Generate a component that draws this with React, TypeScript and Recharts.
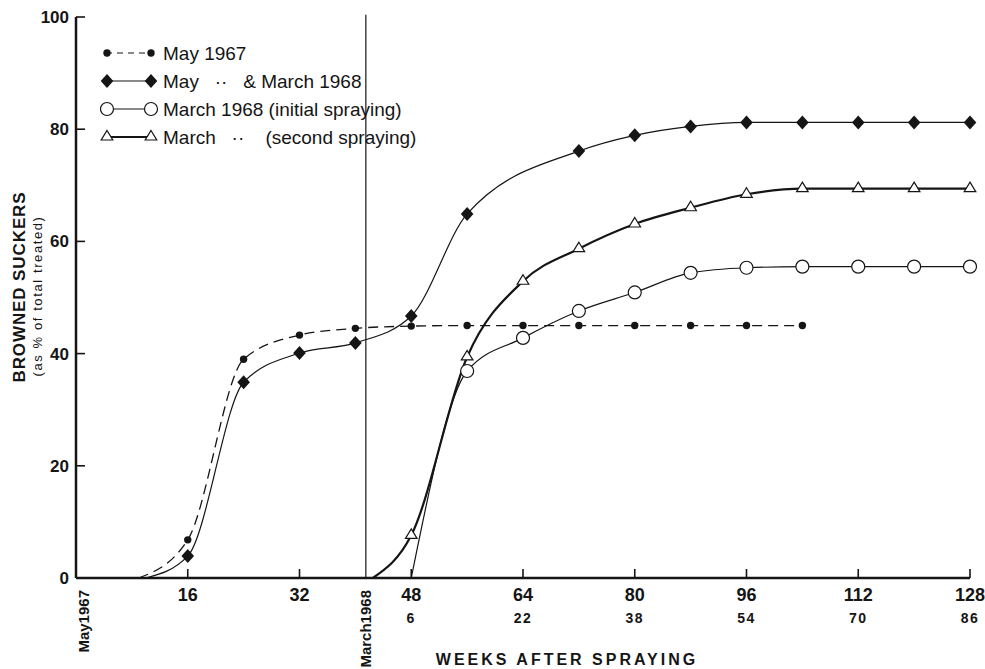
import { Legend, Line, LineChart, ReferenceLine, XAxis, YAxis } from 'recharts';

// weeks after May 1967 (x), browned suckers as % of total treated (y)
const weeks = [9, 10, 16, 24, 32, 40, 42.5, 48, 56, 64, 72, 80, 88, 96, 104, 112, 120, 128];
const may1967 = [0, null, 6.8, 39, 43.3, 44.5, null, 44.9, 45, 45, 45, 45, 45, 45, 45, null, null, null];
const mayMarch1968 = [null, 0, 3.9, 34.9, 40.1, 41.9, null, 46.7, 64.9, null, 76.1, 78.9, 80.5, 81.2, 81.2, 81.2, 81.2, 81.2];
const marchInitial = [null, null, null, null, null, null, null, 0, 36.9, 42.8, 47.6, 50.9, 54.4, 55.3, 55.5, 55.5, 55.5, 55.5];
const marchSecond = [null, null, null, null, null, null, 0, 7.6, 39.4, 52.9, 58.7, 63.1, 66.0, 68.4, 69.4, 69.4, 69.4, 69.4];

const marchSprayWeek = 41.5;
const weekTicks = [0, 16, 32, marchSprayWeek, 48, 64, 80, 96, 112, 128];
const weekLabels = ['May1967', '16', '32', 'March1968', '48', '64', '80', '96', '112', '128'];
const afterSprayLabels = ['', '', '', '', '6', '22', '38', '54', '70', '86'];
const pctTicks = [0, 20, 40, 60, 80, 100];

const legendLabels = [
	'May 1967',
	'May   ··   & March 1968',
	'March 1968 (initial spraying)',
	'March   ··    (second spraying)'
];

const data = weeks.map((week, i) => ({
	week,
	may1967: may1967[i],
	mayMarch1968: mayMarch1968[i],
	marchInitial: marchInitial[i],
	marchSecond: marchSecond[i]
}));

const INK = '#151515';
const FONT = '"Liberation Sans", Arial, sans-serif';

const empty = (key: string) => <g key={key} />;

const smallDot = (p: any) =>
	p.value ? <circle key={`s${p.index}`} cx={p.cx} cy={p.cy} r={3.7} fill={INK} /> : empty(`s${p.index}`);

const diamondDot = (p: any) =>
	p.value ? (
		<polygon
			key={`d${p.index}`}
			points={`${p.cx},${p.cy - 7} ${p.cx + 6.3},${p.cy} ${p.cx},${p.cy + 7} ${p.cx - 6.3},${p.cy}`}
			fill={INK}
		/>
	) : (
		empty(`d${p.index}`)
	);

const openCircleDot = (p: any) =>
	p.value ? (
		<circle key={`c${p.index}`} cx={p.cx} cy={p.cy} r={6.5} fill='#fff' stroke={INK} strokeWidth={1.2} />
	) : (
		empty(`c${p.index}`)
	);

const triangleDot = (p: any) =>
	p.value ? (
		<polygon
			key={`t${p.index}`}
			points={`${p.cx},${p.cy - 6.5} ${p.cx + 5.8},${p.cy + 3} ${p.cx - 5.8},${p.cy + 3}`}
			fill='#fff'
			stroke={INK}
			strokeWidth={1.2}
		/>
	) : (
		empty(`t${p.index}`)
	);

const XTick = (props: any) => {
	const { x, y, index } = props;
	const label = weekLabels[index];
	if (Number.isNaN(Number(label))) {
		return (
			<text
				transform={`translate(${x + (index === 0 ? 13 : 5)},${y + 12}) rotate(-90)`}
				textAnchor='end'
				fontSize={15}
				fontWeight='bold'
				fontFamily={FONT}
				fill={INK}
			>
				{label}
			</text>
		);
	}
	return (
		<g>
			<line x1={x} x2={x} y1={y} y2={y - 9} stroke={INK} strokeWidth={1.6} />
			<text x={x} y={y + 23} textAnchor='middle' fontSize={18} fontWeight='bold' fontFamily={FONT} fill={INK}>
				{label}
			</text>
			<text
				x={x}
				y={y + 45}
				textAnchor='middle'
				fontSize={14}
				fontWeight='bold'
				letterSpacing={1.5}
				fontFamily={FONT}
				fill={INK}
			>
				{afterSprayLabels[index]}
			</text>
		</g>
	);
};

const YTick = (props: any) => {
	const { x, y, payload } = props;
	return (
		<g>
			{payload.value !== 0 && <line x1={x} x2={x + 9} y1={y} y2={y} stroke={INK} strokeWidth={1.6} />}
			<text x={x - 7} y={y + 6} textAnchor='end' fontSize={17} fontWeight='bold' fontFamily={FONT} fill={INK}>
				{payload.value}
			</text>
		</g>
	);
};

const YTitle = () => (
	<g fontFamily={FONT} fill={INK}>
		<text transform='translate(25,287) rotate(-90)' textAnchor='middle' fontSize={17} fontWeight='bold' letterSpacing={0.9}>
			BROWNED SUCKERS
		</text>
		<text transform='translate(42,296) rotate(-90)' textAnchor='middle' fontSize={13} letterSpacing={1.6}>
			(as % of total treated)
		</text>
	</g>
);

const XTitle = () => (
	<text x={567} y={665} textAnchor='middle' fontSize={16} fontWeight='bold' letterSpacing={3} fontFamily={FONT} fill={INK}>
		WEEKS AFTER SPRAYING
	</text>
);

const legendMarkers = [smallDot, diamondDot, openCircleDot, triangleDot];
const legendDashes = ['6 5', undefined, undefined, undefined];
const legendWidths = [1.2, 1.2, 1.2, 2.2];

const LegendBox = () => (
	<svg width={340} height={110}>
		{legendLabels.map((label, i) => {
			const cy = 13 + i * 28;
			const mark = legendMarkers[i];
			return (
				<g key={label}>
					<line x1={6} x2={52} y1={cy} y2={cy} stroke={INK} strokeWidth={legendWidths[i]} strokeDasharray={legendDashes[i]} />
					{mark({ cx: 7, cy, value: 1, index: `a${i}` })}
					{mark({ cx: 51, cy, value: 1, index: `b${i}` })}
					<text x={63} y={cy + 7} fontSize={19} fontFamily={FONT} fill={INK} style={{ whiteSpace: 'pre' }}>
						{label}
					</text>
				</g>
			);
		})}
	</svg>
);

export default function App() {
	return (
		<div style={{ position: 'absolute', left: 0, top: 0, background: '#fff' }}>
			<LineChart width={985} height={669} data={data} margin={{ top: 17, right: 15, bottom: 0, left: 0 }}>
				<XAxis
					dataKey='week'
					type='number'
					domain={[0, 128]}
					ticks={weekTicks}
					interval={0}
					height={91}
					tickSize={0}
					tickMargin={0}
					tickLine={false}
					tick={XTick}
					axisLine={{ stroke: INK, strokeWidth: 2.5 }}
					label={{ content: XTitle }}
				/>
				<YAxis
					type='number'
					domain={[0, 100]}
					ticks={pctTicks}
					interval={0}
					width={76}
					tickSize={0}
					tickMargin={0}
					tickLine={false}
					tick={YTick}
					axisLine={{ stroke: INK, strokeWidth: 2.5 }}
					label={{ content: YTitle }}
				/>
				<ReferenceLine
					segment={[
						{ x: marchSprayWeek, y: 0 },
						{ x: marchSprayWeek, y: 100.4 }
					]}
					ifOverflow='visible'
					stroke={INK}
					strokeWidth={1.2}
				/>
				<Legend
					layout='horizontal'
					verticalAlign='middle'
					align='center'
					content={LegendBox}
					wrapperStyle={{ left: 100, top: 40, width: 340, height: 110 }}
				/>
				<Line
					dataKey='may1967'
					type='monotone'
					stroke={INK}
					strokeWidth={1.3}
					strokeDasharray='10 6'
					connectNulls
					dot={smallDot}
					activeDot={false}
					isAnimationActive={false}
				/>
				<Line
					dataKey='mayMarch1968'
					type='monotone'
					stroke={INK}
					strokeWidth={1.2}
					connectNulls
					dot={diamondDot}
					activeDot={false}
					isAnimationActive={false}
				/>
				<Line
					dataKey='marchInitial'
					type='monotone'
					stroke={INK}
					strokeWidth={1.2}
					connectNulls
					dot={openCircleDot}
					activeDot={false}
					isAnimationActive={false}
				/>
				<Line
					dataKey='marchSecond'
					type='monotone'
					stroke={INK}
					strokeWidth={2.2}
					connectNulls
					dot={triangleDot}
					activeDot={false}
					isAnimationActive={false}
				/>
			</LineChart>
		</div>
	);
}
